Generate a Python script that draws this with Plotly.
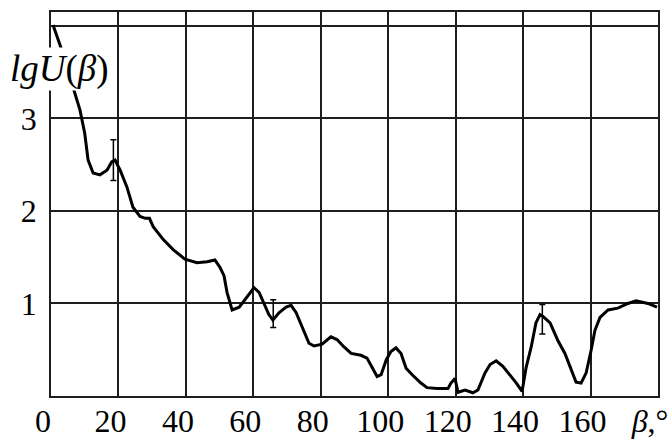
import plotly.graph_objects as go

# Curve lgU(beta)
beta = [0.6, 1.5, 2.7, 4.5, 6.8, 8.6, 10, 11, 12.5, 14.5, 16.6, 18, 19, 20.5, 22.5, 24.3, 26.4, 28, 29.2,
        30.3, 33.3, 36.3, 39.7, 43.3, 46.3, 48.6, 50.1, 51.3, 52.2, 53.7, 55.8, 57.8, 60.2, 61.7, 63.2,
        64.6, 65.8, 67.6, 69.7, 71.2, 72.7, 74.5, 76.5, 78, 80.4, 83, 84.8, 86.9, 89, 91.9, 93.7, 95.2,
        96.7, 97.9, 99.4, 100.8, 102.3, 103.8, 105.3, 107.1, 109.7, 111.5, 114.5, 117.7, 118.6, 119.8,
        120.7, 122.8, 125.1, 126.6, 128.7, 130.2, 132, 134, 136.1, 138, 139.7, 140.9, 142.4, 143.8, 145,
        145.9, 148, 150.3, 152.4, 154.2, 155.7, 157.2, 158.7, 160.2, 161.3, 162.8, 165.2, 168.1, 171.1,
        173.5, 177, 179.7]
lgU = [4.01, 3.92, 3.79, 3.58, 3.32, 3.09, 2.84, 2.55, 2.41, 2.39, 2.44, 2.53, 2.55, 2.44, 2.26, 2.04,
       1.94, 1.92, 1.92, 1.83, 1.69, 1.58, 1.48, 1.44, 1.45, 1.47, 1.39, 1.30, 1.12, 0.93, 0.96, 1.06,
       1.17, 1.12, 1.0, 0.88, 0.82, 0.9, 0.96, 0.98, 0.9, 0.75, 0.57, 0.54, 0.56, 0.64, 0.61, 0.53, 0.46,
       0.44, 0.41, 0.31, 0.21, 0.23, 0.39, 0.48, 0.52, 0.46, 0.3, 0.23, 0.14, 0.09, 0.08, 0.08, 0.14,
       0.19, 0.04, 0.065, 0.035, 0.065, 0.25, 0.34, 0.38, 0.32, 0.23, 0.14, 0.05, 0.31, 0.53, 0.79,
       0.88, 0.86, 0.79, 0.6, 0.46, 0.28, 0.15, 0.14, 0.25, 0.5, 0.71, 0.85, 0.93, 0.95, 1.0, 1.03,
       1.0, 0.96]

# Error bars
err_beta = [18.5, 65.9, 145.7]
err_center = [2.55, 0.89, 0.83]
err_half = [0.22, 0.15, 0.16]

# Ticks
x_tickvals = [0, 20, 40, 60, 80, 100, 120, 140, 160, 180]
x_ticktext = ["0", "20", "40", "60", "80", "100", "120", "140", "160", "<i>β</i>,°"]
y_tickvals = [1, 2, 3, 4]
y_ticktext = ["1", "2", "3", ""]
y_title = "<i>lgU</i>(<i>β</i>)"

FONT = "Liberation Serif"
GRID = "#1e1e1e"

fig = go.Figure()
fig.add_trace(go.Scatter(x=beta, y=lgU, mode="lines",
                         line=dict(color="black", width=3), showlegend=False))
fig.add_trace(go.Scatter(x=err_beta, y=err_center, mode="markers",
                         marker=dict(size=0.1, color="black", opacity=0),
                         error_y=dict(type="data", array=err_half, visible=True,
                                      color="black", thickness=1.5, width=3),
                         showlegend=False))

fig.add_annotation(xref="paper", yref="paper", x=0.0148, y=0.852,
                   xanchor="center", yanchor="middle", text=y_title, showarrow=False,
                   font=dict(family=FONT, size=37, color="black"),
                   bgcolor="white", borderpad=0)

fig.update_layout(
    width=672, height=439,
    margin=dict(l=51, r=14, t=12, b=43),
    paper_bgcolor="white", plot_bgcolor="white",
    font=dict(family=FONT, size=32, color="black"),
)
fig.update_xaxes(range=[0, 180], tickvals=x_tickvals, ticktext=x_ticktext, automargin=False,
                 showgrid=True, gridcolor=GRID, gridwidth=1.5,
                 showline=True, linecolor=GRID, linewidth=1.5, mirror=True,
                 zeroline=False, ticks="", ticklabelshift=-8, ticklabelstandoff=-4,
                 tickfont=dict(family=FONT, size=32, color="black"))
fig.update_yaxes(range=[0, 4.15], tickvals=y_tickvals, ticktext=y_ticktext, automargin=False,
                 showgrid=True, gridcolor=GRID, gridwidth=1.5,
                 showline=True, linecolor=GRID, linewidth=1.5, mirror=True,
                 zeroline=False, ticks="", ticklabelstandoff=6,
                 tickfont=dict(family=FONT, size=32, color="black"))

fig.write_html("out.html", config={"displayModeBar": False},
               post_script="document.body.style.margin='0';document.body.style.overflow='hidden';")
